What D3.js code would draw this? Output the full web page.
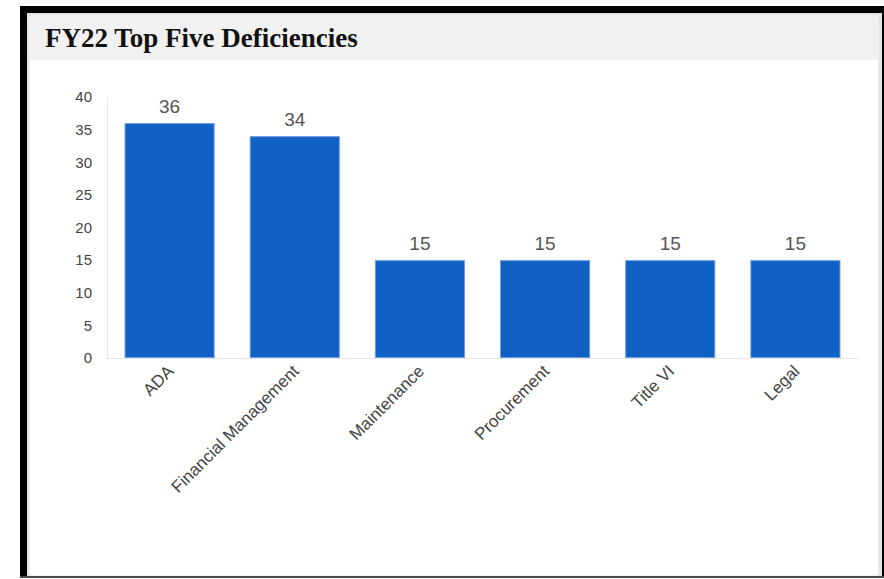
<!DOCTYPE html>
<html>
<head>
<meta charset="utf-8">
<script src="https://cdn.jsdelivr.net/npm/d3@7"></script>
<style>
  body { margin: 0; background: #ffffff; }
  svg { display: block; }
</style>
</head>
<body>
<svg id="viz_svg01" width="884" height="579"></svg>
<script>
// Chart data.
const categories = ["ADA", "Financial Management", "Maintenance", "Procurement", "Title VI", "Legal"];
const counts = [36, 34, 15, 15, 15, 15];
const yTicks = [0, 5, 10, 15, 20, 25, 30, 35, 40];
const chartTitle = "FY22 Top Five Deficiencies";

// Display parameters.
const specs = {
    plotLeft: 107,
    plotRight: 858,
    plotTop: 97,
    plotBottom: 358,
    barColor: "#1160c4",
    barEdge: "#6d9de0"
};

document.addEventListener("DOMContentLoaded", function(){
    let svg = d3.select("#viz_svg01");

    // Frame around the panel: black on top, left and right, a thin line below.
    svg.append("rect")
        .attr("x", 20).attr("y", 6)
        .attr("width", 864).attr("height", 572)
        .style("fill", "#000000");
    svg.append("rect")
        .attr("x", 20).attr("y", 576)
        .attr("width", 864).attr("height", 2)
        .style("fill", "#4a4a4a");
    // Panel with its soft grey border.
    svg.append("rect")
        .attr("x", 27).attr("y", 13)
        .attr("width", 855).attr("height", 563)
        .style("fill", "#e4e4e4");
    svg.append("rect")
        .attr("x", 29.5).attr("y", 15.5)
        .attr("width", 849).attr("height", 560)
        .attr("rx", 3)
        .style("fill", "#ffffff");
    // Title bar.
    svg.append("path")
        .attr("d", "M29.5,60 V18.5 Q29.5,15.5 32.5,15.5 H875.5 Q878.5,15.5 878.5,18.5 V60 Z")
        .style("fill", "#f1f1f1");

    svg.append("text")
        .attr("x", 45)
        .attr("y", 47)
        .text(chartTitle)
        .style("font-family", "'Liberation Serif', 'Times New Roman', serif")
        .style("font-weight", "700")
        .style("font-size", "27px")
        .style("fill", "#111111");

    // Scales.
    let x = d3.scaleBand()
        .domain(categories)
        .range([specs.plotLeft, specs.plotRight])
        .paddingInner(0.28)
        .paddingOuter(0.14);
    let y = d3.scaleLinear()
        .domain([0, 40])
        .range([specs.plotBottom, specs.plotTop]);

    let data = categories.map((c, i) => ({cat: c, val: counts[i]}));

    // Y axis.
    let yAxis = svg.append("g")
        .attr("transform", `translate(${specs.plotLeft}, 0)`)
        .call(d3.axisLeft(y).tickValues(yTicks).tickSize(0).tickPadding(15));
    yAxis.select(".domain").attr("stroke", "#e6e6e6");
    yAxis.selectAll("text")
        .style("font-family", "'Liberation Sans', Arial, sans-serif")
        .style("font-size", "15px")
        .style("fill", "#444444");

    // Baseline.
    svg.append("line")
        .attr("x1", specs.plotLeft).attr("x2", specs.plotRight)
        .attr("y1", specs.plotBottom + 0.5).attr("y2", specs.plotBottom + 0.5)
        .style("stroke", "#e6e6e6");

    // Bars.
    svg.selectAll(".bar")
        .data(data)
        .enter()
        .append("rect")
        .attr("class", "bar")
        .attr("x", d => x(d.cat) + 0.5)
        .attr("y", d => y(d.val) + 0.5)
        .attr("width", x.bandwidth() - 1)
        .attr("height", d => specs.plotBottom - y(d.val) - 1)
        .style("fill", specs.barColor)
        .style("stroke", specs.barEdge)
        .style("stroke-width", 1);

    // Value labels.
    svg.selectAll(".valLabel")
        .data(data)
        .enter()
        .append("text")
        .attr("class", "valLabel")
        .attr("x", d => x(d.cat) + x.bandwidth() / 2)
        .attr("y", d => y(d.val) - 10)
        .attr("text-anchor", "middle")
        .text(d => d.val)
        .style("font-family", "'Liberation Sans', Arial, sans-serif")
        .style("font-size", "19px")
        .style("fill", "#555555");

    // Category labels, turned 45 degrees.
    svg.selectAll(".catLabel")
        .data(data)
        .enter()
        .append("text")
        .attr("class", "catLabel")
        .attr("transform", d => `translate(${x(d.cat) + x.bandwidth() / 2 + 1}, ${specs.plotBottom + 10}) rotate(-45)`)
        .attr("text-anchor", "end")
        .attr("dy", "0.35em")
        .text(d => d.cat)
        .style("font-family", "'Liberation Sans', Arial, sans-serif")
        .style("font-size", "17px")
        .style("fill", "#444444");
});
</script>
</body>
</html>
